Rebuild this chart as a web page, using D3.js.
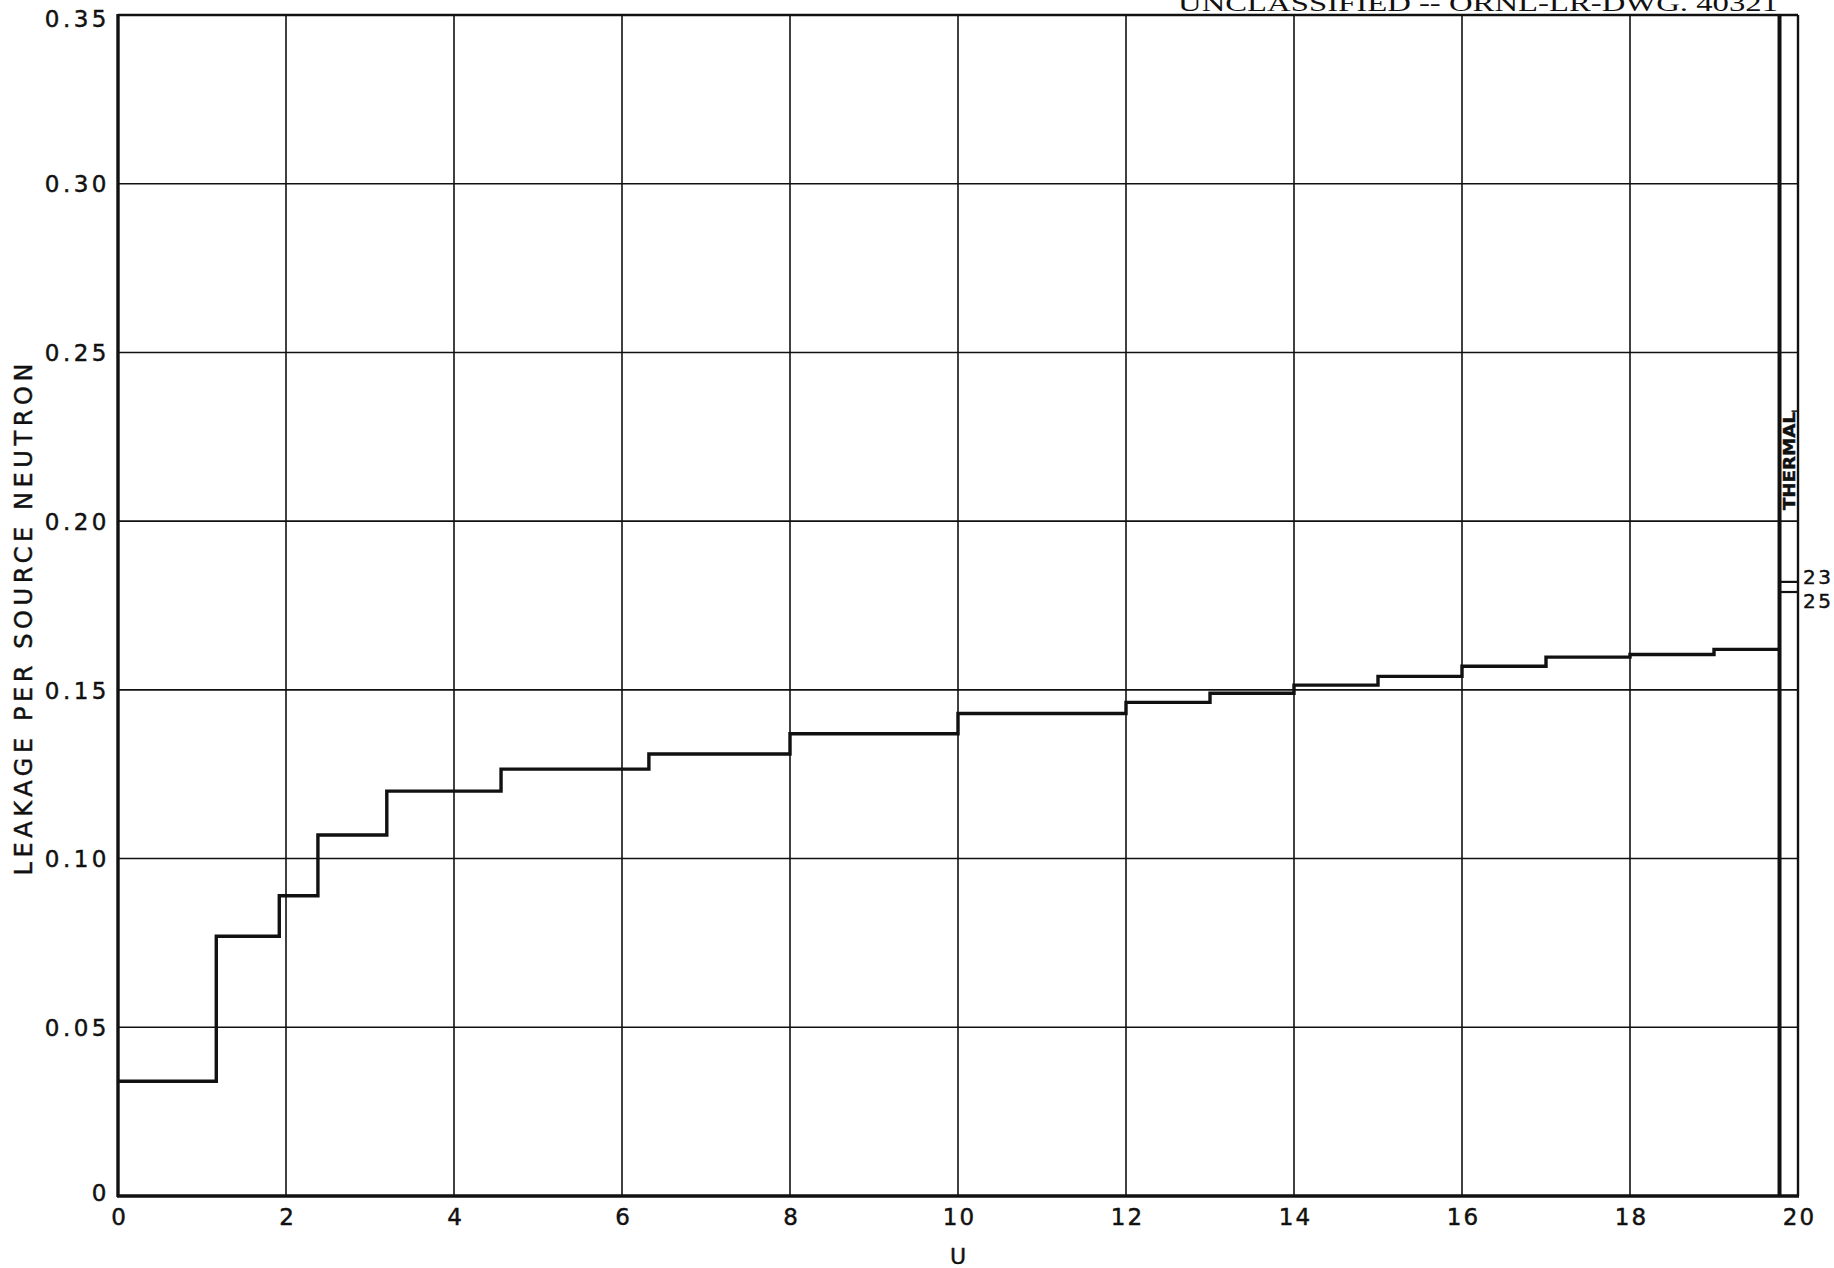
<!DOCTYPE html>
<html>
<head>
<meta charset="utf-8">
<script src="https://cdn.jsdelivr.net/npm/d3@7"></script>
<style>
  html, body { margin: 0; padding: 0; background: #fff; }
  svg { display: block; }
  .lbl { font-family: "DejaVu Sans", sans-serif; fill: #111; stroke: #111; stroke-width: 0.45px; }
</style>
</head>
<body>
<script>
// ---- data ----
const uEdges  = [0, 1.17, 1.92, 2.38, 3.2, 4.56, 6.32, 8, 10, 12, 13, 14, 15, 16, 17, 18, 19, 19.78];
const leakage = [0.034, 0.077, 0.089, 0.107, 0.120, 0.1265, 0.131, 0.137, 0.143, 0.1463, 0.149, 0.1514, 0.154, 0.157, 0.1597, 0.1605, 0.162];
const thermalBand = [19.78, 20];
const thermalLabels = ["23", "25"];
const thermalValues = [0.182, 0.179];
const xTicks = [0, 2, 4, 6, 8, 10, 12, 14, 16, 18, 20];
const xTickLabels = ["0", "2", "4", "6", "8", "10", "12", "14", "16", "18", "20"];
const yTicks = [0, 0.05, 0.10, 0.15, 0.20, 0.25, 0.30, 0.35];
const yTickLabels = ["0", "0.05", "0.10", "0.15", "0.20", "0.25", "0.30", "0.35"];
const headerText = "UNCLASSIFIED -- ORNL-LR-DWG. 40321";
const xTitle = "U";
const yTitle = "LEAKAGE PER SOURCE NEUTRON";
const thermalText = "THERMAL";

// ---- layout ----
const W = 1834, H = 1268;
const mLeft = 118, mRight = 1798, mTop = 15, mBottom = 1196;

const svg = d3.select("body").append("svg").attr("width", W).attr("height", H);

const x = d3.scaleLinear().domain([0, 20]).range([mLeft, mRight]);
const y = d3.scaleLinear().domain([0, 0.35]).range([mBottom, mTop]);

// gridlines
const grid = svg.append("g").attr("stroke", "#111").attr("stroke-width", 1.6);
grid.selectAll("line.v").data(xTicks.filter(t => t > 0 && t < 20)).join("line")
  .attr("class", "v")
  .attr("x1", d => x(d)).attr("x2", d => x(d)).attr("y1", y(0)).attr("y2", y(0.35));
grid.selectAll("line.h").data(yTicks.filter(t => t > 0 && t < 0.35)).join("line")
  .attr("class", "h")
  .attr("x1", x(0)).attr("x2", x(20)).attr("y1", d => y(d)).attr("y2", d => y(d));

// frame
svg.append("line").attr("x1", x(0)).attr("x2", x(20)).attr("y1", y(0.35)).attr("y2", y(0.35))
  .attr("stroke", "#111").attr("stroke-width", 2.4);
svg.append("line").attr("x1", x(20)).attr("x2", x(20)).attr("y1", y(0)).attr("y2", y(0.35))
  .attr("stroke", "#111").attr("stroke-width", 2.4);
svg.append("line").attr("x1", x(0)).attr("x2", x(0)).attr("y1", y(0) + 1).attr("y2", y(0.35) - 1)
  .attr("stroke", "#111").attr("stroke-width", 3.4);
svg.append("line").attr("x1", x(0) - 1).attr("x2", x(20) + 1).attr("y1", y(0)).attr("y2", y(0))
  .attr("stroke", "#111").attr("stroke-width", 3.4);

// thermal band boundary
svg.append("line").attr("x1", x(thermalBand[0])).attr("x2", x(thermalBand[0]))
  .attr("y1", y(0)).attr("y2", y(0.35))
  .attr("stroke", "#111").attr("stroke-width", 4);

// step curve
const pts = uEdges.map((u, i) => [u, i < leakage.length ? leakage[i] : leakage[leakage.length - 1]]);
const line = d3.line().x(d => x(d[0])).y(d => y(d[1])).curve(d3.curveStepAfter);
svg.append("path").attr("d", line(pts)).attr("fill", "none")
  .attr("stroke", "#111").attr("stroke-width", 3.4).attr("stroke-linejoin", "miter");

// thermal markers
const tm = svg.append("g");
thermalValues.forEach((v, i) => {
  tm.append("line").attr("x1", x(thermalBand[0])).attr("x2", x(thermalBand[1]))
    .attr("y1", y(v)).attr("y2", y(v)).attr("stroke", "#111").attr("stroke-width", 2.2);
  tm.append("text").attr("class", "lbl")
    .attr("x", x(thermalBand[1]) + 5)
    .attr("y", y(v) + (i === 0 ? 2 : 16))
    .attr("font-size", 20).attr("letter-spacing", 2.5)
    .text(thermalLabels[i]);
});

// THERMAL label
svg.append("text").attr("class", "lbl")
  .attr("transform", `translate(${(x(thermalBand[0]) + x(thermalBand[1])) / 2 + 6},${y(0.2) - 60}) rotate(-90)`)
  .attr("text-anchor", "middle").attr("font-size", 15).attr("font-weight", "bold")
  .attr("textLength", 98).attr("lengthAdjust", "spacingAndGlyphs")
  .text(thermalText);
svg.append("line").attr("x1", x(thermalBand[0]) + 12).attr("x2", x(thermalBand[1]))
  .attr("y1", y(0.2) - 110).attr("y2", y(0.2) - 110).attr("stroke", "#111").attr("stroke-width", 1.5);

// axes (labels only)
const xAxis = d3.axisBottom(x).tickValues(xTicks).tickSize(0).tickPadding(0)
  .tickFormat((d, i) => xTickLabels[i]);
const gx = svg.append("g").attr("transform", `translate(0,${mBottom + 29})`).call(xAxis);
gx.select(".domain").remove();
gx.selectAll("text").attr("class", "lbl").attr("font-size", 23).attr("fill", "#111")
  .attr("dy", "0").attr("letter-spacing", 2).attr("dx", 1);

const yAxis = d3.axisLeft(y).tickValues(yTicks).tickSize(0).tickPadding(0)
  .tickFormat((d, i) => yTickLabels[i]);
const gy = svg.append("g").attr("transform", `translate(${mLeft - 8},0)`).call(yAxis);
gy.select(".domain").remove();
gy.selectAll("text").attr("class", "lbl").attr("font-size", 23).attr("fill", "#111")
  .attr("letter-spacing", 3.5).attr("dy", "0.36em");
gy.selectAll(".tick").filter(d => d === 0.35).select("text").attr("dy", "0.52em");
gy.selectAll(".tick").filter(d => d === 0).select("text").attr("dy", "0.2em");

// axis titles
svg.append("text").attr("class", "lbl")
  .attr("x", x(10)).attr("y", 1264).attr("text-anchor", "middle")
  .attr("font-size", 22).text(xTitle);
svg.append("text").attr("class", "lbl")
  .attr("transform", `translate(32,${(mTop + mBottom) / 2 + 14}) rotate(-90)`)
  .attr("text-anchor", "middle").attr("font-size", 24)
  .attr("textLength", 512).attr("lengthAdjust", "spacing")
  .text(yTitle);

// header
svg.append("text")
  .attr("x", 1178).attr("y", 11)
  .attr("font-family", "Liberation Serif, serif").attr("font-size", 24).attr("fill", "#111")
  .attr("textLength", 600).attr("lengthAdjust", "spacingAndGlyphs")
  .text(headerText);
</script>
</body>
</html>
